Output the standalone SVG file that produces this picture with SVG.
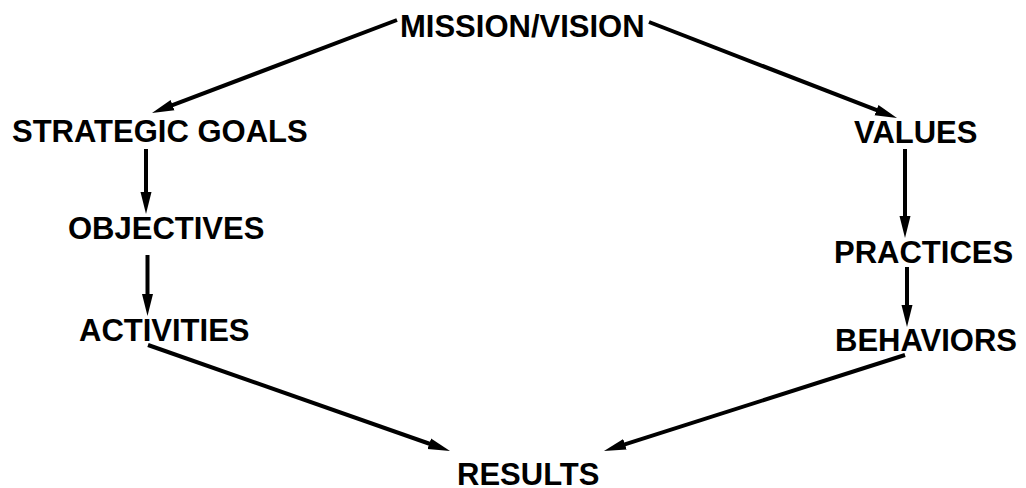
<svg xmlns="http://www.w3.org/2000/svg" width="1026" height="488" viewBox="0 0 1026 488">
<style>
.lbl{font-family:"Liberation Sans",Arial,sans-serif;font-weight:bold;font-size:31px;fill:#000}
.edge{stroke:#000;stroke-width:4;fill:none;marker-end:url(#ah)}
</style>
<defs>
<marker id="ah" markerUnits="userSpaceOnUse" markerWidth="24" markerHeight="14" viewBox="0 -7 24 14" refX="10" refY="0" orient="auto">
<path d="M0,-5.5 L22,0 L0,5.5 Z" fill="#000"/>
</marker>
</defs>
<rect width="1026" height="488" fill="#fff"/>
<g id="connectors">
<line class="edge" x1="397" y1="20" x2="163.2" y2="108.7"/>
<line class="edge" x1="649" y1="22" x2="885.8" y2="113.7"/>
<line class="edge" x1="146" y1="149" x2="146" y2="202"/>
<line class="edge" x1="147.5" y1="255" x2="147.5" y2="304"/>
<line class="edge" x1="148" y1="345" x2="438.7" y2="447"/>
<line class="edge" x1="905" y1="149" x2="905" y2="226"/>
<line class="edge" x1="907" y1="267" x2="907" y2="315"/>
<line class="edge" x1="905" y1="355" x2="615.4" y2="447.4"/>
</g>
<g id="mission"><text class="lbl" x="400" y="37">MISSION/VISION</text></g>
<g id="strategic"><text class="lbl" x="12" y="142">STRATEGIC GOALS</text></g>
<g id="objectives"><text class="lbl" x="68" y="239">OBJECTIVES</text></g>
<g id="activities"><text class="lbl" x="79" y="341">ACTIVITIES</text></g>
<g id="values"><text class="lbl" x="854" y="143">VALUES</text></g>
<g id="practices"><text class="lbl" x="834" y="263">PRACTICES</text></g>
<g id="behaviors"><text class="lbl" x="835" y="351">BEHAVIORS</text></g>
<g id="results"><text class="lbl" x="457" y="485">RESULTS</text></g>
</svg>
